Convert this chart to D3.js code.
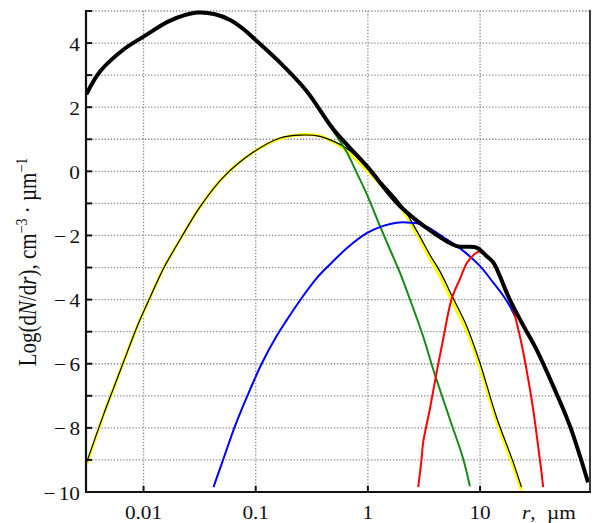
<!DOCTYPE html>
<html>
<head>
<meta charset="utf-8">
<script src="https://cdn.jsdelivr.net/npm/d3@7"></script>
<style>
  html, body { margin: 0; padding: 0; background: #fff; }
  svg { display: block; }
  text { font-family: "Liberation Serif", "Times New Roman", serif; fill: #111; }
</style>
</head>
<body>
<svg id="chart" width="595" height="523"></svg>
<script>
// ---- data (r in µm, value = log10 dN/dr) ----
const xTickValues = [0.01, 0.1, 1, 10];
const xTickLabels = ["0.01", "0.1", "1", "10"];
const yTickValues = [-10, -8, -6, -4, -2, 0, 2, 4];
const yTickLabels = ["−10", "−8", "−6", "−4", "−2", "0", "2", "4"];
const yGridValues = [-9, -8, -7, -6, -5, -4, -3, -2, -1, 0, 1, 2, 3, 4, 5];

const totalR = [0.00309, 0.00411, 0.00664, 0.0100, 0.0173, 0.0299, 0.0434, 0.0592, 0.0768, 0.0989, 0.165, 0.285, 0.492, 0.975, 1.93, 3.82, 6.18, 9.31, 11.4, 13.1, 15.0, 17.2, 22.6, 31.8, 44.8, 63.1, 91.8];
const totalV = [2.40, 3.12, 3.80, 4.20, 4.70, 4.95, 4.90, 4.72, 4.45, 4.11, 3.39, 2.50, 1.31, 0.17, -1.08, -1.91, -2.33, -2.38, -2.64, -2.84, -3.26, -3.78, -4.61, -5.55, -6.69, -7.93, -9.70];

const mode1R = [0.00313, 0.00441, 0.00541, 0.00664, 0.00902, 0.01148, 0.01507, 0.02123, 0.0320, 0.0515, 0.0955, 0.165, 0.248, 0.374, 0.564, 0.692, 0.849, 1.93, 2.72, 3.57, 4.39, 5.57, 7.59, 9.95, 14.0, 19.7, 23.4];
const mode1V = [-9.12, -7.58, -6.76, -5.94, -4.74, -3.92, -3.03, -2.12, -1.10, -0.18, 0.60, 1.02, 1.14, 1.10, 0.79, 0.56, 0.25, -1.10, -1.95, -2.72, -3.28, -4.02, -4.98, -6.10, -7.78, -9.18, -9.95];
const fitV   = [-9.05, -7.58, -6.76, -5.94, -4.74, -3.92, -3.03, -2.12, -1.10, -0.18, 0.60, 1.04, 1.13, 1.09, 0.84, 0.64, 0.34, -0.99, -1.85, -2.60, -3.12, -3.86, -4.82, -5.96, -7.66, -9.06, -9.85];

const mode2R = [0.476, 0.647, 0.794, 0.975, 1.28, 1.57, 1.93, 2.37, 3.11, 3.82, 5.38, 7.08, 8.11];
const mode2V = [1.33, 0.60, -0.04, -0.70, -1.70, -2.43, -3.16, -3.99, -5.15, -6.17, -7.73, -8.97, -9.82];

const mode3R = [0.0420, 0.0515, 0.0656, 0.0892, 0.113, 0.154, 0.189, 0.257, 0.350, 0.460, 0.648, 0.975, 1.37, 1.80, 2.40, 3.11, 5.03, 7.08, 9.95, 13.1, 16.1, 18.4, 20.4];
const mode3V = [-9.85, -8.97, -7.93, -6.80, -6.00, -5.13, -4.64, -3.95, -3.33, -2.90, -2.40, -1.93, -1.70, -1.60, -1.60, -1.67, -2.12, -2.48, -2.95, -3.47, -3.88, -4.20, -4.51];

const mode4R = [2.81, 3.01, 3.11, 3.57, 4.10, 4.69, 5.57, 6.61, 7.83, 9.95, 12.2, 17.2, 19.7, 22.6, 25.9, 29.7, 32.9, 35.3, 36.5];
const mode4V = [-9.85, -8.97, -8.45, -7.41, -6.27, -5.23, -3.99, -3.36, -2.80, -2.50, -2.74, -3.68, -4.30, -5.13, -6.17, -7.41, -8.56, -9.39, -9.85];

// ---- layout ----
const svg = d3.select("#chart");
const L = 86, R = 590, T = 11, B = 492;
const x = d3.scaleLog().domain([0.00307, 95.5]).range([L, R]);
const y = d3.scaleLinear().domain([-10, 5]).range([B, T]);
const SX = 1.12;

svg.append("defs").append("clipPath").attr("id", "plotclip")
  .append("rect").attr("x", L).attr("y", T - 2).attr("width", R - L).attr("height", B - T + 2);

// grid
const grid = svg.append("g").attr("stroke", "#8a8a8a").attr("stroke-width", 1.3).attr("stroke-dasharray", "1.3,1.8");
grid.selectAll("line.h").data(yGridValues).join("line")
  .attr("x1", L).attr("x2", R).attr("y1", d => y(d)).attr("y2", d => y(d));
grid.selectAll("line.v").data(xTickValues).join("line")
  .attr("y1", T).attr("y2", B).attr("x1", d => x(d)).attr("x2", d => x(d));

// curves
const plot = svg.append("g").attr("clip-path", "url(#plotclip)");
function series(rs, vs) { return rs.map((r, i) => [r, vs[i]]); }
const line = d3.line().x(d => x(d[0])).y(d => y(d[1])).curve(d3.curveCatmullRom.alpha(0.5));

function draw(rs, vs, color, w) {
  plot.append("path").datum(series(rs, vs))
    .attr("fill", "none").attr("stroke", color).attr("stroke-width", w)
    .attr("stroke-linejoin", "round").attr("d", line);
}
draw(mode1R, mode1V, "#ffff00", 3);
draw(mode1R, fitV, "#000000", 1.2);
draw(mode2R, mode2V, "#158a15", 2);
draw(mode3R, mode3V, "#0000ff", 2);
draw(mode4R, mode4V, "#ff0000", 2);
draw(totalR, totalV, "#000000", 4);

// axes frame
svg.append("line").attr("x1", R).attr("x2", R).attr("y1", T - 1).attr("y2", B + 1).attr("stroke", "#3a3a3a").attr("stroke-width", 2);
svg.append("line").attr("x1", L).attr("x2", L).attr("y1", T - 1).attr("y2", B + 1).attr("stroke", "#111").attr("stroke-width", 2.2);
svg.append("line").attr("x1", L - 1).attr("x2", R + 1).attr("y1", B).attr("y2", B).attr("stroke", "#111").attr("stroke-width", 2.2);

// ticks (inward)
svg.append("g").selectAll("line").data(yGridValues.concat([-10])).join("line")
  .attr("x1", L).attr("x2", L + 6).attr("y1", d => y(d)).attr("y2", d => y(d))
  .attr("stroke", "#111").attr("stroke-width", 2);
svg.append("g").selectAll("line").data(xTickValues).join("line")
  .attr("x1", d => x(d)).attr("x2", d => x(d)).attr("y1", B).attr("y2", B - 6)
  .attr("stroke", "#111").attr("stroke-width", 2);

// tick labels
svg.append("g").selectAll("text").data(xTickValues).join("text")
  .attr("transform", d => `translate(${x(d)},519) scale(${SX},1)`)
  .attr("text-anchor", "middle").attr("font-size", 19)
  .text((d, i) => xTickLabels[i]);

const yl = svg.append("g").selectAll("text").data(yTickValues).join("text")
  .attr("transform", d => `translate(80,${y(d) + 7.5}) scale(${SX},1)`)
  .attr("text-anchor", "end").attr("font-size", 19);
yl.each(function(d, i) {
  const lab = yTickLabels[i];
  const t = d3.select(this);
  if (lab.startsWith("−")) {
    t.append("tspan").text("−");
    t.append("tspan").attr("dx", 3).text(lab.slice(1));
  } else {
    t.text(lab);
  }
});

// x axis title
const xt = svg.append("g").attr("font-size", 19);
xt.append("text").attr("transform", `translate(522,519) scale(${SX},1)`).attr("text-anchor", "start")
  .call(t => { t.append("tspan").attr("font-style", "italic").text("r"); t.append("tspan").text(","); });
xt.append("text").attr("transform", `translate(547,519) scale(${SX},1)`).attr("text-anchor", "start").text("µm");

// y axis title
const yt = svg.append("text")
  .attr("transform", `translate(36,262) scale(1.15,1) rotate(-90)`)
  .attr("text-anchor", "middle").attr("font-size", 21);
yt.append("tspan").text("Log(d");
yt.append("tspan").attr("font-style", "italic").text("N");
yt.append("tspan").text("/d");
yt.append("tspan").attr("font-style", "italic").text("r");
yt.append("tspan").text("), cm");
yt.append("tspan").attr("font-size", 14).attr("dy", -8).text("−3");
yt.append("tspan").attr("dy", 8).text(" · µm");
yt.append("tspan").attr("font-size", 14).attr("dy", -8).text("−1");
</script>
</body>
</html>
